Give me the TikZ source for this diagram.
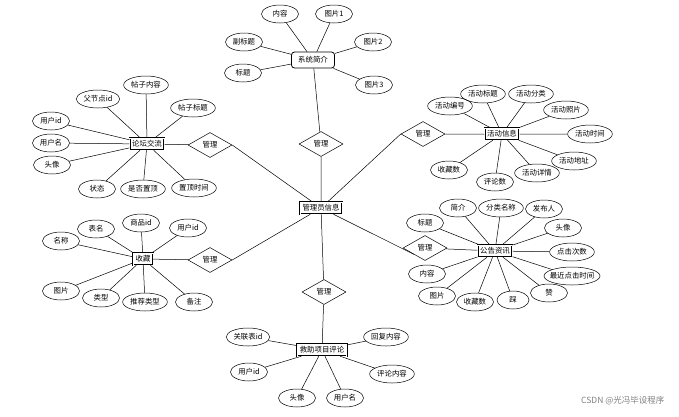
\documentclass[tikz,border=0pt]{standalone}
\usepackage{fontspec}
\setmainfont{Noto Sans CJK SC}
\usetikzlibrary{shapes.geometric}

\tikzset{
  attr/.style={draw, ellipse, minimum width=37pt, minimum height=18pt, inner xsep=1pt, inner ysep=0pt},
  ent/.style={draw, double, double distance=0.7pt, minimum height=12pt, inner xsep=2.5pt, inner ysep=1pt},
  rel/.style={draw, diamond, minimum width=44pt, minimum height=25pt, inner sep=0pt},
}

\begin{document}
\begin{tikzpicture}[x=1pt, y=-1pt, line width=0.5pt, every node/.style={font=\fontsize{7.4}{8}\selectfont}]
  \useasboundingbox (0,0) rectangle (679,416);

  % Admin in the middle
  \node[ent] (admin) at (321,208) {管理员信息};

  % System intro
  \node[draw, rounded corners=3pt, line width=0.8pt, minimum width=43pt, minimum height=16pt] (sys) at (313,60) {系统简介};
  \node[attr] (sysA) at (280,14) {内容};
  \node[attr] (sysB) at (334,14) {图片1};
  \node[attr] (sysC) at (244,42) {副标题};
  \node[attr] (sysD) at (373,42) {图片2};
  \node[attr] (sysE) at (243,73) {标题};
  \node[attr] (sysF) at (374,85) {图片3};
  \node[rel] (relSys) at (321,144) {管理};
  \draw (sys) -- (sysA) (sys) -- (sysB) (sys) -- (sysC) (sys) -- (sysD) (sys) -- (sysE) (sys) -- (sysF);
  \draw (sys) -- (relSys) -- (admin);

  % Forum
  \node[ent] (forum) at (147,144) {论坛交流};
  \node[attr] (forA) at (146,85) {帖子内容};
  \node[attr] (forB) at (98,99) {父节点id};
  \node[attr] (forC) at (193,108) {帖子标题};
  \node[attr] (forD) at (51,121) {用户id};
  \node[attr] (forE) at (51,143) {用户名};
  \node[attr] (forF) at (52,165) {头像};
  \node[attr] (forG) at (97,189) {状态};
  \node[attr] (forH) at (143,189) {是否置顶};
  \node[attr] (forI) at (194,188) {置顶时间};
  \node[rel] (relFor) at (210,145) {管理};
  \draw (forum) -- (forA) (forum) -- (forB) (forum) -- (forC) (forum) -- (forD) (forum) -- (forE)
        (forum) -- (forF) (forum) -- (forG) (forum) -- (forH) (forum) -- (forI);
  \draw (forum) -- (relFor) (relFor.east) -- (admin);

  % Favourites
  \node[ent] (fav) at (143,259) {收藏};
  \node[attr] (favA) at (61,241) {名称};
  \node[attr] (favB) at (96,229) {表名};
  \node[attr] (favC) at (141,223) {商品id};
  \node[attr] (favD) at (188,228) {用户id};
  \node[attr] (favE) at (61,291) {图片};
  \node[attr] (favF) at (101,298) {类型};
  \node[attr] (favG) at (145,302) {推荐类型};
  \node[attr] (favH) at (194,302) {备注};
  \node[rel] (relFav) at (210,260) {管理};
  \draw (fav) -- (favA) (fav) -- (favB) (fav) -- (favC) (fav) -- (favD)
        (fav) -- (favE) (fav) -- (favF) (fav) -- (favG) (fav) -- (favH);
  \draw (fav) -- (relFav) (relFav.east) -- (admin);

  % Activities
  \node[ent] (act) at (502,134) {活动信息};
  \node[attr] (actA) at (450,106) {活动编号};
  \node[attr] (actB) at (483,94) {活动标题};
  \node[attr] (actC) at (531,94) {活动分类};
  \node[attr] (actD) at (566,110) {活动照片};
  \node[attr] (actE) at (590,134) {活动时间};
  \node[attr] (actF) at (574,161) {活动地址};
  \node[attr] (actG) at (537,173) {活动详情};
  \node[attr] (actH) at (495,182) {评论数};
  \node[attr] (actI) at (449,170) {收藏数};
  \node[rel] (relAct) at (423,134) {管理};
  \draw (act) -- (actA) (act) -- (actB) (act) -- (actC) (act) -- (actD) (act) -- (actE)
        (act) -- (actF) (act) -- (actG) (act) -- (actH) (act) -- (actI);
  \draw (act) -- (relAct) (relAct.west) -- (admin);

  % News
  \node[ent] (news) at (495,251) {公告资讯};
  \node[attr] (newA) at (425,223) {标题};
  \node[attr] (newB) at (458,208) {简介};
  \node[attr] (newC) at (501,208) {分类名称};
  \node[attr] (newD) at (544,209) {发布人};
  \node[attr] (newE) at (563,228) {头像};
  \node[attr] (newF) at (572,252) {点击次数};
  \node[attr, inner xsep=-3.5pt, minimum width=56pt] (newG) at (572,276) {最近点击时间};
  \node[attr] (newH) at (549,293) {赞};
  \node[attr, minimum width=32pt] (newI) at (513,300) {踩};
  \node[attr] (newJ) at (475,302) {收藏数};
  \node[attr] (newK) at (437,296) {图片};
  \node[attr] (newL) at (427,274) {内容};
  \node[rel] (relNew) at (425,248) {管理};
  \draw (news) -- (newA) (news) -- (newB) (news) -- (newC) (news) -- (newD) (news) -- (newE) (news) -- (newF)
        (news) -- (newG) (news) -- (newH) (news) -- (newI) (news) -- (newJ) (news) -- (newK) (news) -- (newL);
  \draw (news) -- (relNew) (relNew.south west) -- (admin);

  % Rescue project comments
  \node[ent] (cmt) at (322,350) {救助项目评论};
  \node[attr] (cmtA) at (248,337) {关联表id};
  \node[attr] (cmtB) at (249,372) {用户id};
  \node[attr] (cmtC) at (297,398) {头像};
  \node[attr] (cmtD) at (345,398) {用户名};
  \node[attr] (cmtE) at (386,337) {回复内容};
  \node[attr] (cmtF) at (392,374) {评论内容};
  \node[rel] (relCmt) at (324,292) {管理};
  \draw (cmt) -- (cmtA) (cmt) -- (cmtB) (cmt) -- (cmtC) (cmt) -- (cmtD) (cmt) -- (cmtE) (cmt) -- (cmtF);
  \draw (cmt) -- (relCmt) -- (admin);

  % watermark
  \node[text=gray, font=\fontsize{8.5}{10}\selectfont, anchor=east] (mark) at (668,401) {CSDN @光冯毕设程序};
\end{tikzpicture}
\end{document}
